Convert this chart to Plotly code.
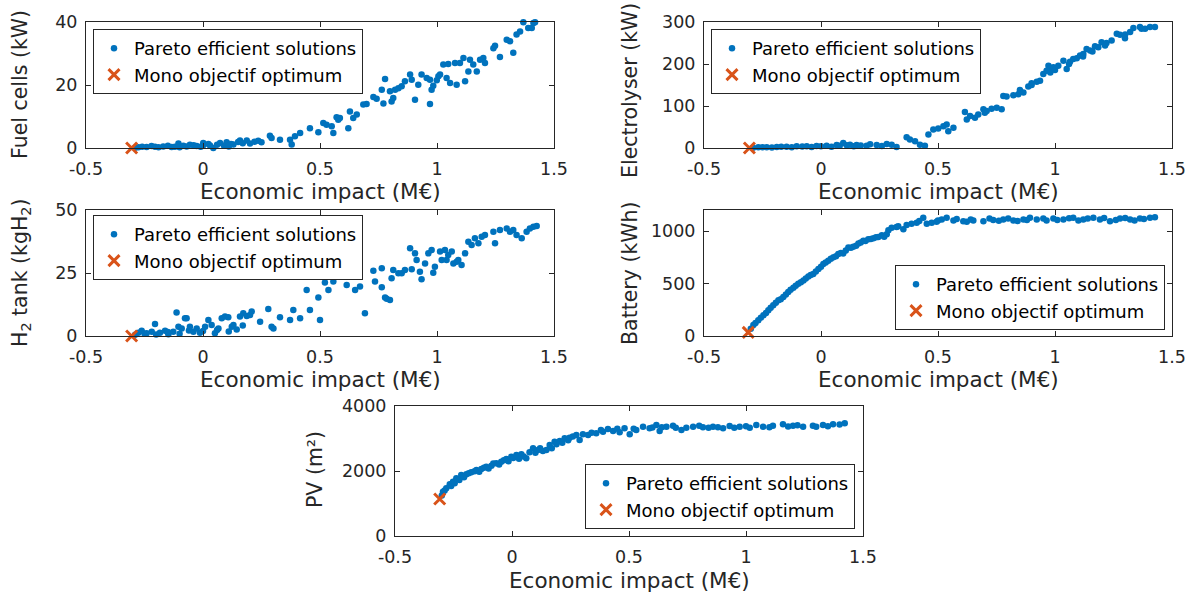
import plotly.graph_objects as go

# Pareto front of the sizing study: (economic impact in M€, component size)
fuel_cells = [
    (-0.29, 0.1), (-0.276, 0.2), (-0.26, 0.4), (-0.241, 0.3), (-0.22, 0.6), (-0.205, 0.4),
    (-0.19, 0.2), (-0.17, 0.5), (-0.15, 0.7), (-0.134, 0.3), (-0.12, 0.4), (-0.105, 1.4),
    (-0.1, 0.2), (-0.084, 0.7), (-0.07, 0.5), (-0.056, 1.0), (-0.04, 0.9), (-0.027, 0.6),
    (-0.01, 0.4), (0.0, 0.8), (0.001, 1.6), (0.023, 1.3), (0.03, 0.8), (0.044, 0.0),
    (0.06, 1.0), (0.073, 1.6), (0.09, 0.7), (0.101, 1.8), (0.11, 0.5), (0.12, 1.3),
    (0.13, 1.1), (0.15, 1.9), (0.158, 2.4), (0.17, 1.5), (0.187, 2.4), (0.201, 1.4),
    (0.22, 2.0), (0.236, 2.3), (0.25, 1.8), (0.286, 3.9), (0.293, 3.2), (0.329, 2.6),
    (0.372, 2.6), (0.379, 1.1), (0.393, 3.7), (0.415, 4.8), (0.457, 6.3), (0.493, 5.0),
    (0.514, 7.9), (0.528, 7.4), (0.55, 6.9), (0.557, 4.8), (0.571, 9.8), (0.578, 9.0),
    (0.585, 9.5), (0.621, 6.3), (0.628, 11.6), (0.642, 9.5), (0.657, 10.6), (0.685, 13.8),
    (0.699, 14.0), (0.728, 16.2), (0.742, 15.6), (0.764, 18.5), (0.771, 14.1), (0.778, 21.9),
    (0.799, 18.0), (0.806, 14.8), (0.813, 15.9), (0.821, 18.5), (0.835, 19.0), (0.849, 19.6),
    (0.863, 21.2), (0.885, 23.3), (0.892, 21.7), (0.906, 15.3), (0.92, 20.1), (0.934, 23.3),
    (0.956, 22.2), (0.97, 21.7), (0.97, 14.0), (0.977, 18.5), (0.984, 19.8), (0.999, 21.5),
    (1.006, 22.8), (1.013, 23.3), (1.027, 26.5), (1.041, 22.2), (1.048, 26.7), (1.056, 20.6),
    (1.077, 27.0), (1.084, 20.1), (1.098, 27.0), (1.113, 28.6), (1.12, 21.2), (1.134, 24.3),
    (1.141, 28.0), (1.155, 26.5), (1.17, 24.3), (1.184, 28.0), (1.198, 28.6), (1.205, 27.0),
    (1.241, 31.7), (1.248, 32.5), (1.269, 28.9), (1.298, 34.4), (1.312, 33.9), (1.326, 30.2),
    (1.34, 36.0), (1.355, 37.0), (1.369, 39.9), (1.39, 38.1), (1.405, 38.1), (1.412, 39.7),
    (1.419, 39.9),
]

electrolyser = [
    (-0.29, 0.8), (-0.268, 1.6), (-0.25, 2.0), (-0.232, 1.6), (-0.21, 1.2), (-0.189, 2.4),
    (-0.17, 2.8), (-0.147, 3.2), (-0.125, 2.0), (-0.104, 4.0), (-0.08, 3.6), (-0.061, 4.0),
    (-0.04, 2.4), (-0.019, 4.8), (0.0, 4.4), (0.024, 5.6), (0.045, 3.2), (0.067, 7.2),
    (0.08, 5.2), (0.095, 12.0), (0.11, 6.4), (0.124, 8.0), (0.14, 4.0), (0.152, 7.2),
    (0.17, 6.0), (0.195, 5.6), (0.21, 8.8), (0.238, 7.2), (0.26, 4.8), (0.281, 9.6),
    (0.302, 8.0), (0.323, 2.4), (0.366, 25.6), (0.38, 20.0), (0.402, 16.0), (0.423, 8.0),
    (0.444, 5.6), (0.459, 32.0), (0.48, 44.0), (0.501, 46.4), (0.523, 52.0), (0.537, 56.0),
    (0.544, 40.0), (0.566, 48.0), (0.615, 85.6), (0.623, 68.0), (0.637, 76.0), (0.658, 72.0),
    (0.672, 80.0), (0.694, 92.0), (0.7, 84.0), (0.708, 88.0), (0.729, 93.6), (0.751, 96.0),
    (0.772, 92.0), (0.779, 124.0), (0.793, 122.4), (0.822, 125.6), (0.843, 128.0), (0.85, 138.0),
    (0.865, 132.0), (0.886, 146.4), (0.9, 154.4), (0.9, 150.0), (0.922, 157.6), (0.936, 160.0),
    (0.95, 176.0), (0.964, 184.0), (0.972, 196.0), (0.979, 188.0), (0.98, 180.0), (0.993, 192.0),
    (1.0, 186.0), (1.014, 196.0), (1.036, 208.0), (1.05, 188.0), (1.06, 200.0), (1.064, 205.6),
    (1.078, 212.0), (1.093, 213.6), (1.107, 220.0), (1.12, 218.0), (1.121, 224.0), (1.135, 236.0),
    (1.15, 232.0), (1.16, 230.0), (1.171, 242.4), (1.185, 240.0), (1.199, 252.0), (1.214, 244.0),
    (1.22, 250.0), (1.242, 256.0), (1.264, 272.0), (1.278, 269.6), (1.299, 261.6), (1.3, 270.0),
    (1.321, 276.0), (1.335, 285.6), (1.363, 288.0), (1.37, 284.0), (1.385, 284.0), (1.406, 288.0),
    (1.427, 288.0),
]

h2_tank = [
    (-0.29, 0.5), (-0.276, 1.3), (-0.262, 2.1), (-0.25, 0.9), (-0.241, 1.1), (-0.219, 1.7),
    (-0.205, 4.8), (-0.2, 0.6), (-0.184, 1.3), (-0.162, 2.1), (-0.15, 1.6), (-0.148, 0.7),
    (-0.127, 1.7), (-0.113, 9.3), (-0.105, 3.7), (-0.1, 0.9), (-0.091, 3.0), (-0.077, 7.0),
    (-0.07, 7.0), (-0.06, 2.2), (-0.056, 3.7), (-0.041, 1.7), (-0.027, 3.0), (-0.013, 1.3),
    (0.0, 2.0), (0.009, 3.7), (0.023, 6.3), (0.037, 4.4), (0.051, 1.1), (0.06, 2.4),
    (0.066, 3.0), (0.08, 7.0), (0.094, 7.7), (0.108, 7.4), (0.11, 1.8), (0.123, 3.7),
    (0.13, 4.4), (0.144, 2.6), (0.158, 7.7), (0.17, 4.2), (0.172, 9.0), (0.187, 7.9),
    (0.201, 8.3), (0.208, 9.7), (0.244, 5.7), (0.279, 10.7), (0.293, 3.7), (0.301, 3.0),
    (0.329, 7.4), (0.372, 6.3), (0.386, 10.3), (0.415, 7.0), (0.443, 18.3), (0.457, 10.3),
    (0.493, 15.3), (0.5, 6.3), (0.521, 21.2), (0.536, 18.3), (0.557, 21.6), (0.571, 24.6),
    (0.614, 20.2), (0.628, 25.5), (0.635, 27.5), (0.65, 18.3), (0.671, 19.6), (0.692, 9.0),
    (0.728, 25.9), (0.735, 21.6), (0.764, 19.3), (0.764, 26.9), (0.778, 15.3), (0.785, 14.8),
    (0.799, 14.3), (0.806, 22.9), (0.813, 26.2), (0.835, 24.9), (0.849, 24.9), (0.863, 26.2),
    (0.885, 34.8), (0.892, 26.5), (0.906, 32.8), (0.913, 30.2), (0.927, 25.5), (0.934, 22.5),
    (0.949, 28.8), (0.963, 32.8), (0.977, 34.1), (0.984, 25.1), (0.991, 27.5), (1.013, 33.5),
    (1.02, 30.2), (1.034, 34.1), (1.041, 30.2), (1.048, 32.1), (1.063, 33.5), (1.07, 28.8),
    (1.084, 29.5), (1.091, 30.2), (1.105, 28.2), (1.12, 32.8), (1.134, 37.4), (1.148, 36.1),
    (1.162, 38.8), (1.177, 36.8), (1.191, 39.4), (1.205, 40.1), (1.241, 41.4), (1.248, 36.8),
    (1.269, 42.1), (1.298, 42.7), (1.312, 41.4), (1.326, 42.1), (1.34, 40.1), (1.362, 38.8),
    (1.383, 41.4), (1.397, 42.7), (1.412, 43.4), (1.426, 43.7),
]

battery = [
    (-0.3, 70), (-0.289, 104), (-0.28, 125), (-0.268, 151), (-0.257, 175), (-0.246, 198),
    (-0.235, 220), (-0.225, 245), (-0.215, 268), (-0.204, 292), (-0.193, 316), (-0.182, 340),
    (-0.172, 350), (-0.161, 371), (-0.15, 395), (-0.14, 418), (-0.13, 440), (-0.118, 459),
    (-0.108, 478), (-0.097, 497), (-0.086, 512), (-0.075, 528), (-0.065, 548), (-0.054, 566),
    (-0.044, 580), (-0.033, 591), (-0.022, 615), (-0.011, 638), (0.0, 660), (0.01, 686),
    (0.02, 700), (0.031, 717), (0.042, 735), (0.053, 749), (0.064, 760), (0.074, 780),
    (0.085, 790), (0.095, 786), (0.106, 815), (0.117, 843), (0.128, 840), (0.138, 849),
    (0.15, 860), (0.16, 881), (0.17, 890), (0.181, 906), (0.19, 905), (0.202, 921),
    (0.213, 925), (0.224, 931), (0.235, 940), (0.245, 944), (0.26, 960), (0.27, 945),
    (0.281, 969), (0.288, 1006), (0.302, 1032), (0.323, 1038), (0.33, 1045), (0.352, 1016),
    (0.366, 1057), (0.387, 1069), (0.409, 1079), (0.42, 1095), (0.437, 1126), (0.452, 1069),
    (0.473, 1079), (0.494, 1088), (0.5, 1100), (0.516, 1110), (0.537, 1126), (0.566, 1101),
    (0.58, 1115), (0.608, 1094), (0.623, 1088), (0.64, 1110), (0.651, 1101), (0.694, 1094),
    (0.72, 1120), (0.736, 1104), (0.76, 1098), (0.779, 1110), (0.8, 1120), (0.822, 1101),
    (0.84, 1095), (0.865, 1110), (0.88, 1105), (0.893, 1126), (0.922, 1110), (0.95, 1118),
    (0.964, 1101), (0.993, 1120), (1.01, 1105), (1.036, 1110), (1.06, 1122), (1.078, 1126),
    (1.1, 1100), (1.121, 1110), (1.14, 1118), (1.164, 1126), (1.192, 1110), (1.21, 1125),
    (1.235, 1094), (1.26, 1105), (1.278, 1120), (1.3, 1125), (1.321, 1110), (1.34, 1100),
    (1.363, 1120), (1.38, 1115), (1.406, 1126), (1.427, 1132),
]

pv = [
    (-0.3, 1250), (-0.295, 1364), (-0.288, 1400), (-0.281, 1467), (-0.266, 1590), (-0.26, 1540),
    (-0.252, 1672), (-0.245, 1620), (-0.238, 1774), (-0.225, 1720), (-0.217, 1877), (-0.205, 1810),
    (-0.195, 1897), (-0.185, 1930), (-0.174, 1959), (-0.16, 1990), (-0.152, 2031), (-0.14, 1980),
    (-0.131, 2061), (-0.12, 2100), (-0.11, 2133), (-0.1, 2080), (-0.088, 2164), (-0.08, 2230),
    (-0.067, 2236), (-0.055, 2200), (-0.046, 2287), (-0.035, 2330), (-0.024, 2369), (-0.015, 2300),
    (-0.003, 2441), (0.005, 2400), (0.019, 2492), (0.03, 2380), (0.04, 2513), (0.05, 2450),
    (0.061, 2390), (0.075, 2574), (0.09, 2697), (0.1, 2560), (0.111, 2646), (0.12, 2700),
    (0.132, 2615), (0.147, 2646), (0.161, 2800), (0.17, 2700), (0.182, 2902), (0.19, 2820),
    (0.204, 2923), (0.215, 2870), (0.225, 3005), (0.24, 2950), (0.246, 3026), (0.26, 3060),
    (0.275, 3108), (0.289, 2954), (0.303, 3128), (0.325, 3108), (0.34, 3180), (0.36, 3159),
    (0.38, 3260), (0.389, 3210), (0.41, 3292), (0.432, 3231), (0.45, 3300), (0.46, 3190),
    (0.481, 3313), (0.503, 3128), (0.52, 3300), (0.531, 3262), (0.56, 3364), (0.588, 3313),
    (0.6, 3340), (0.617, 3415), (0.631, 3231), (0.64, 3350), (0.66, 3364), (0.688, 3395),
    (0.7, 3330), (0.724, 3262), (0.745, 3333), (0.774, 3364), (0.8, 3390), (0.816, 3344),
    (0.84, 3330), (0.859, 3364), (0.88, 3350), (0.902, 3313), (0.93, 3385), (0.95, 3330),
    (0.973, 3364), (1.0, 3380), (1.016, 3333), (1.044, 3415), (1.073, 3364), (1.1, 3350),
    (1.115, 3395), (1.158, 3436), (1.18, 3370), (1.201, 3395), (1.22, 3410), (1.244, 3364),
    (1.286, 3395), (1.3, 3360), (1.329, 3415), (1.35, 3380), (1.372, 3436), (1.4, 3430),
    (1.422, 3467),
]

# Single-objective optimum for each component
mono_x = [-0.305, -0.306, -0.305, -0.311, -0.309]
mono_y = [0, 0, 0, 35, 1140]

y_titles = ["Fuel cells (kW)", "Electrolyser (kW)", "H<sub>2</sub> tank (kgH<sub>2</sub>)",
            "Battery (kWh)", "PV (m²)"]
y_ranges = [[0, 40], [0, 300], [0, 50], [0, 1200], [0, 4000]]
y_ticks = [[0, 20, 40], [0, 100, 200, 300], [0, 25, 50], [0, 500, 1000], [0, 2000, 4000]]
x_ticks = [-0.5, 0, 0.5, 1, 1.5]
x_ticktext = ["-0.5", "0", "0.5", "1", "1.5"]
x_title = "Economic impact (M€)"

W, H = 1196, 599
BLUE = "#0072BD"
ORANGE = "#D95319"
INK = "#262626"
FONT = "DejaVu Sans, Liberation Sans, Arial, sans-serif"

# axes boxes in pixels: (left, right, top, bottom)
boxes = [(86, 554, 22, 148), (704, 1172, 22, 148),
         (86, 554, 210, 336), (704, 1172, 210, 336),
         (395, 863, 406, 536)]
# legend anchor points in pixels, with their anchoring sides
legend_pos = [(93, 29, "left", "top"), (711, 29, "left", "top"),
              (93, 215, "left", "top"), (1165, 330, "right", "bottom"),
              (855, 529, "right", "bottom")]
# axis-title centres in pixels
xtitle_pos = [(320, 191), (938, 191), (320, 379), (938, 379), (629, 580)]
ytitle_pos = [(20, 85), (630, 91), (21, 273), (630, 273), (315, 470)]

series = [fuel_cells, electrolyser, h2_tank, battery, pv]

fig = go.Figure()
layout = dict(
    width=W, height=H,
    margin=dict(l=0, r=0, t=0, b=0, autoexpand=False),
    paper_bgcolor="white", plot_bgcolor="white",
    font=dict(family=FONT, color=INK, size=18),
    annotations=[],
)

for i, pts in enumerate(series):
    n = "" if i == 0 else str(i + 1)
    leg = "legend" + n
    xs = [p[0] for p in pts]
    ys = [p[1] for p in pts]
    fig.add_trace(go.Scatter(
        x=xs, y=ys, mode="markers", name="Pareto efficient solutions",
        marker=dict(color=BLUE, size=6.5, line=dict(width=0)),
        xaxis="x" + n, yaxis="y" + n, legend=leg, cliponaxis=False,
    ))
    fig.add_trace(go.Scatter(
        x=[mono_x[i]], y=[mono_y[i]], mode="markers", name="Mono objectif optimum",
        marker=dict(symbol="x-thin", color=ORANGE, size=11,
                    line=dict(color=ORANGE, width=3)),
        xaxis="x" + n, yaxis="y" + n, legend=leg, cliponaxis=False,
    ))

    l, r, t, b = boxes[i]
    common = dict(showline=True, mirror="ticks", linecolor=INK, linewidth=1,
                  ticks="inside", ticklen=5, tickwidth=1, tickcolor=INK,
                  showgrid=False, zeroline=False, automargin=False,
                  tickfont=dict(family=FONT, size=17.5, color=INK))
    layout["xaxis" + n] = dict(
        common, domain=[l / W, r / W], anchor="y" + n, range=[-0.5, 1.5],
        tickvals=x_ticks, ticktext=x_ticktext, ticklabelstandoff=5,
    )
    layout["yaxis" + n] = dict(
        common, domain=[1 - b / H, 1 - t / H], anchor="x" + n, range=y_ranges[i],
        tickvals=y_ticks[i], ticklabelstandoff=4,
    )
    lx, ly, xa, ya = legend_pos[i]
    layout[leg] = dict(
        x=lx / W, y=1 - ly / H, xanchor=xa, yanchor=ya,
        bgcolor="white", bordercolor=INK, borderwidth=1,
        font=dict(family=FONT, size=18, color="black"), tracegroupgap=0,
    )
    tx, ty = xtitle_pos[i]
    layout["annotations"].append(dict(
        text=x_title, x=tx / W, y=1 - ty / H, xref="paper", yref="paper",
        xanchor="center", yanchor="middle", showarrow=False,
        font=dict(family=FONT, size=21.5, color=INK),
    ))
    yx, yy = ytitle_pos[i]
    layout["annotations"].append(dict(
        text=y_titles[i], x=yx / W, y=1 - yy / H, xref="paper", yref="paper",
        xanchor="center", yanchor="middle", showarrow=False, textangle=-90,
        font=dict(family=FONT, size=20.5, color=INK),
    ))

fig.update_layout(**layout)
fig.write_html("out.html")
